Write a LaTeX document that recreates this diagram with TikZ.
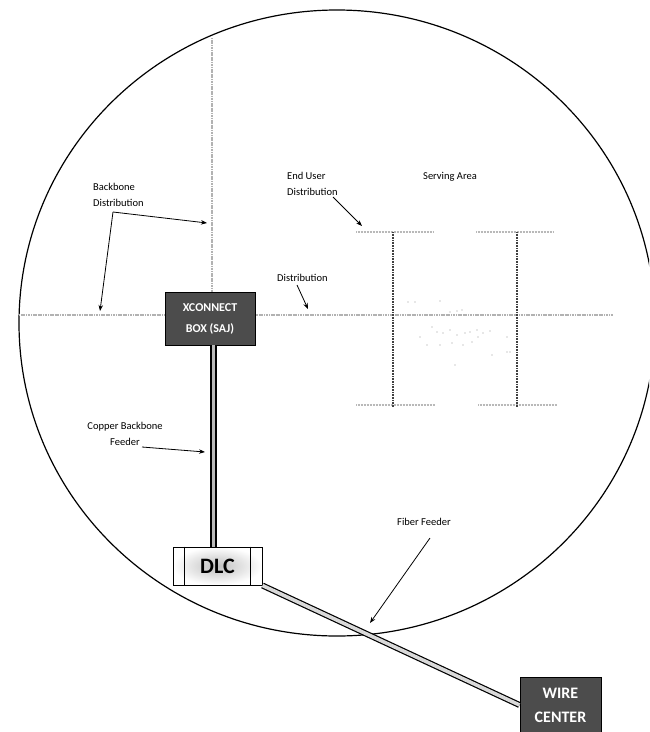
\documentclass[tikz,border=0pt]{standalone}
\usepackage{fontspec}
\setmainfont{Carlito}
\usetikzlibrary{arrows.meta}
\begin{document}
\begin{tikzpicture}[x=1pt,y=-1pt,
  lbl/.style={font=\fontsize{10.5}{16}\selectfont, inner sep=0pt},
  ptr/.style={-{Stealth[length=6pt,width=4.5pt]}, line width=0.8pt},
  grayline/.style={gray!60, line width=1.8pt, dash pattern=on 1.2pt off 0.5pt},
  darkbox/.style={draw=black, line width=1pt, fill=black!70, text=white, font=\bfseries, align=center, inner sep=0pt},
  saline/.style={black!75, line width=1.2pt, dash pattern=on 1pt off 0.6pt},
  stubline/.style={gray!55, line width=1.4pt, dash pattern=on 1pt off 0.5pt},
  speck/.style={fill=gray!80},
]
\useasboundingbox (0,0) rectangle (649,732);
\clip (0,0) rectangle (649,732);
\fill[white] (0,0) rectangle (649,732);

% serving circle
\draw[line width=1.2pt] (337,323) ellipse [x radius=318pt, y radius=313pt];

% backbone distribution lines
\coordinate (vtop) at (212,38);
\coordinate (hl) at (19,315);
\coordinate (hr) at (613,315);
\draw[grayline] (vtop) -- (212,300);
\draw[grayline] (hl) -- (hr);

% serving area
\coordinate (tl1) at (356,232); \coordinate (tl2) at (433,232);
\coordinate (tr1) at (476,232); \coordinate (tr2) at (553,232);
\coordinate (bl1) at (356,405); \coordinate (bl2) at (435,405);
\coordinate (br1) at (478,405); \coordinate (br2) at (557,405);
\draw[stubline] (tl1) -- (tl2);
\draw[stubline] (tr1) -- (tr2);
\draw[stubline] (bl1) -- (bl2);
\draw[stubline] (br1) -- (br2);
\draw[saline] (393,232) -- (393,407);
\draw[saline] (517,232) -- (517,407);

% specks
\foreach \p in {(408,302),(415,302),(440,301),(450,312),(457,311),(462,310),
  (432,327),(437,332),(443,333),(450,330),(457,335),(465,333),(470,332),(477,330),(483,333),(490,331),
  (420,337),(427,345),(440,345),(452,343),(463,345),(472,342),(478,337),(507,337),(492,355),(507,352),(510,352),(455,365)}
  \fill[speck] \p circle (0.7pt);

% boxes
\node[darkbox, minimum width=90pt, minimum height=53pt, font=\bfseries\fontsize{12}{21}\selectfont] (xc) at (210,318.5) {XCONNECT\\BOX (SAJ)};
\node[draw, line width=1pt, minimum width=89pt, minimum height=38pt, inner color=gray!50, outer color=white, font=\bfseries\fontsize{22}{24}\selectfont] (dlc) at (217.5,566) {DLC};
\draw[line width=0.9pt] ([xshift=12pt]dlc.north west) -- ([xshift=12pt]dlc.south west);
\draw[line width=0.9pt] ([xshift=-12pt]dlc.north east) -- ([xshift=-12pt]dlc.south east);
\node[darkbox, minimum width=81pt, minimum height=56pt, font=\bfseries\fontsize{16}{24}\selectfont] (wc) at (560.5,705) {WIRE\\CENTER};

% copper backbone feeder
\draw[line width=7pt] (xc.south -| 213,0) -- (dlc.north -| 213,0);
\draw[line width=3pt, gray!55] ([yshift=0.5pt]xc.south -| 213,0) -- ([yshift=-0.5pt]dlc.north -| 213,0);

% fiber feeder
\draw[line width=6pt] (dlc.south east) -- (wc.west);
\draw[line width=3.6pt, gray!30] (dlc.south east) -- (wc.west);

% labels
\node[lbl, anchor=west, align=left] (lbb) at (93,195) {Backbone\\Distribution};
\node[lbl, anchor=west, align=left] (leu) at (287,183.5) {End User\\Distribution};
\node[lbl] (lsa) at (450,177) {Serving Area};
\node[lbl, anchor=west] (ld) at (277,278) {Distribution};
\node[lbl, align=center] (lcb) at (125,434) {Copper Backbone\\Feeder};
\node[lbl] (lff) at (424,522) {Fiber Feeder};

% pointers
\coordinate (bbs) at (113,212);
\coordinate (bbt1) at (207,223);
\coordinate (bbt2) at (100,311);
\draw[ptr] (bbs) -- (bbt1);
\draw[ptr] (bbs) -- (bbt2);
\coordinate (eus) at (333,197);
\coordinate (eut) at (362,226);
\draw[ptr] (eus) -- (eut);
\coordinate (ds) at (297,285);
\coordinate (dt) at (308,309);
\draw[ptr] (ds) -- (dt);
\coordinate (cbs) at (142,447);
\coordinate (cbt) at (205,452);
\draw[ptr] (cbs) -- (cbt);
\coordinate (ffs) at (430,538);
\coordinate (fft) at (370,623);
\draw[ptr] (ffs) -- (fft);
\end{tikzpicture}
\end{document}
